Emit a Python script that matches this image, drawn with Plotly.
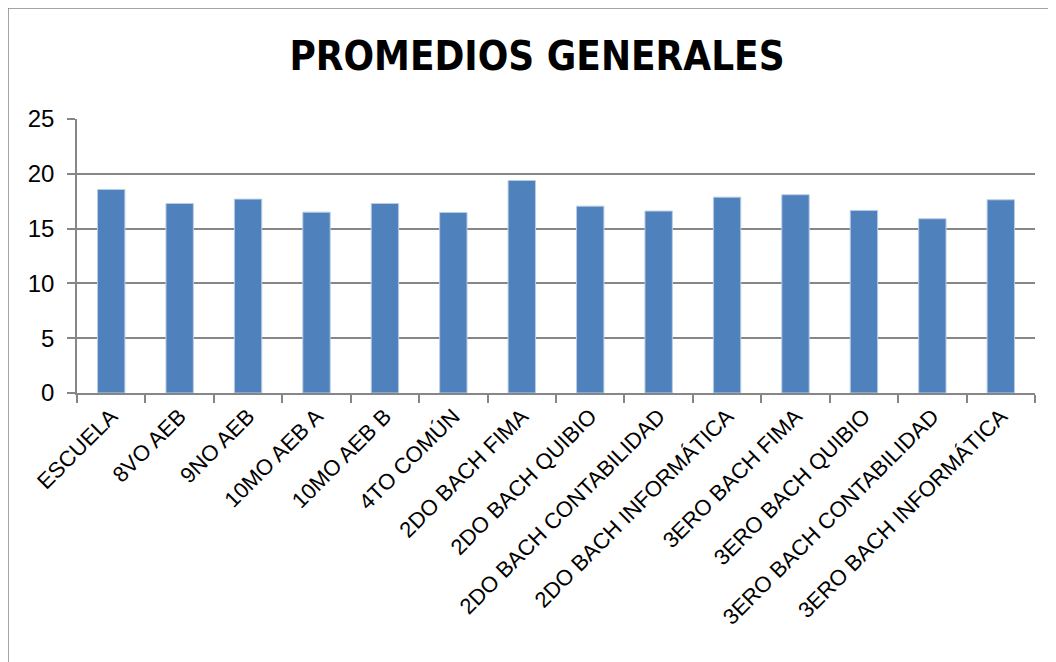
import plotly.graph_objects as go

categories = ["ESCUELA", "8VO AEB", "9NO AEB", "10MO AEB A", "10MO AEB B", "4TO COMÚN",
              "2DO BACH FIMA", "2DO BACH QUIBIO", "2DO BACH CONTABILIDAD", "2DO BACH INFORMÁTICA",
              "3ERO BACH FIMA", "3ERO BACH QUIBIO", "3ERO BACH CONTABILIDAD", "3ERO BACH INFORMÁTICA"]
values = [18.57, 17.29, 17.69, 16.5, 17.29, 16.47, 19.39, 17.05, 16.6, 17.87, 18.09, 16.66, 15.9, 17.63]
y_ticks = [0, 5, 10, 15, 20, 25]
title_text = "PROMEDIOS GENERALES"

W, H = 1056, 662
OFF = 8  # page body offset
L, R, T, B = 77 - OFF, 1035 - OFF, 119 - OFF, 393 - OFF

fig = go.Figure(go.Bar(
    x=categories, y=values,
    marker=dict(color="#4F81BD", line=dict(color="#B9CDE5", width=1)),
))

def px_x(p):
    return (p - OFF - L) / (R - L)

def px_y(p):
    return (B - (p - OFF)) / (B - T)

fig.update_layout(
    width=W, height=H,
    margin=dict(l=L, r=W - R, t=T, b=H - B, pad=0),
    paper_bgcolor="white", plot_bgcolor="white",
    bargap=0.6,
    showlegend=False,
    font=dict(family="Liberation Sans, Arial, sans-serif", color="black"),
    title=dict(text="<b>" + title_text + "</b>", x=(537 - OFF) / W, xanchor="center",
               y=1 - (56 - OFF) / H, yanchor="middle",
               font=dict(family="DejaVu Sans Condensed, Liberation Sans, Arial", size=40, color="black")),
    xaxis=dict(type="category", tickangle=-45, tickson="boundaries", ticks="outside", ticklen=8,
               tickcolor="#868686", tickwidth=1.5, showline=True, linecolor="#868686", linewidth=1.5,
               showgrid=False, tickfont=dict(size=22, color="black")),
    yaxis=dict(range=[0, 25], tickvals=y_ticks, ticks="outside", ticklen=8, tickcolor="#868686",
               tickwidth=1.5, showline=True, linecolor="#868686", linewidth=1.5, showgrid=True,
               gridcolor="#868686", gridwidth=1.5, zeroline=False, ticklabelstandoff=8,
               tickfont=dict(size=24, color="black")),
    shapes=[dict(type="rect", xref="paper", yref="paper",
                 x0=px_x(8), x1=px_x(1049), y0=px_y(720), y1=px_y(8),
                 line=dict(color="#868686", width=1.5), layer="below")],
)

fig.write_html("out.html")
